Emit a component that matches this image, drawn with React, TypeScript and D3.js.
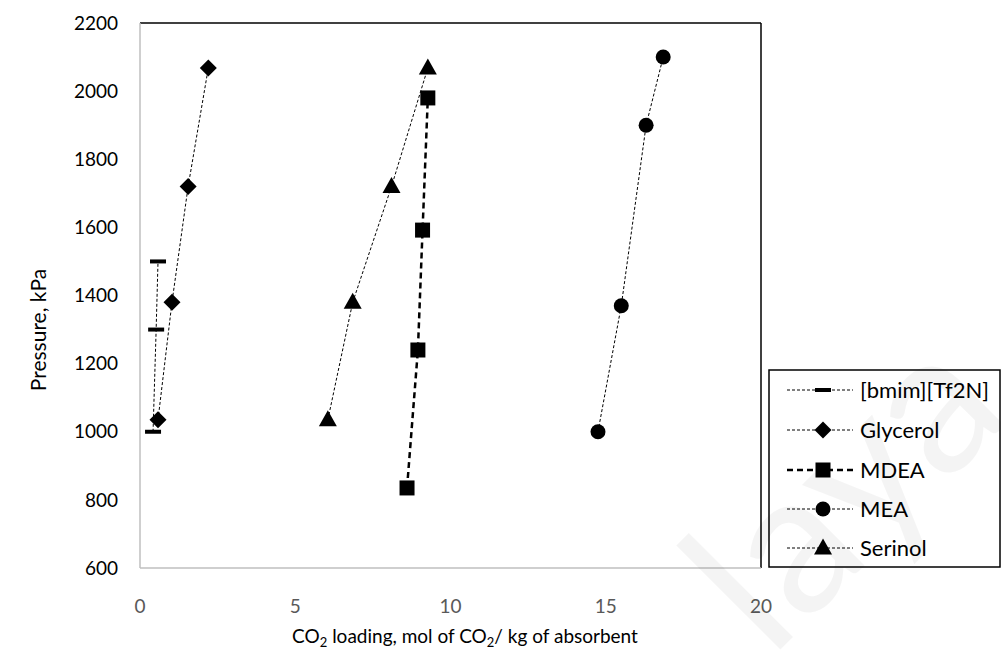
import React from "react";
import * as d3 from "d3";

const W = 1001, H = 652;
const M = { left: 140, right: 761, top: 23, bottom: 568 };

const xTicks = [0, 5, 10, 15, 20];
const yTicks = [600, 800, 1000, 1200, 1400, 1600, 1800, 2000, 2200];

const bmimX = [0.42, 0.52, 0.58];
const bmimY = [1000, 1300, 1500];
const glycerolX = [0.58, 1.03, 1.55, 2.2];
const glycerolY = [1035, 1380, 1720, 2068];
const mdeaX = [8.6, 8.95, 9.1, 9.27];
const mdeaY = [835, 1240, 1592, 1980];
const meaX = [14.75, 15.5, 16.3, 16.85];
const meaY = [1000, 1370, 1900, 2100];
const serinolX = [6.05, 6.85, 8.1, 9.27];
const serinolY = [1035, 1380, 1720, 2068];

type Marker = "dash" | "diamond" | "square" | "circle" | "triangle";
const series: { name: string; xs: number[]; ys: number[]; marker: Marker; thick: boolean }[] = [
  { name: "[bmim][Tf2N]", xs: bmimX, ys: bmimY, marker: "dash", thick: false },
  { name: "Glycerol", xs: glycerolX, ys: glycerolY, marker: "diamond", thick: false },
  { name: "MDEA", xs: mdeaX, ys: mdeaY, marker: "square", thick: true },
  { name: "MEA", xs: meaX, ys: meaY, marker: "circle", thick: false },
  { name: "Serinol", xs: serinolX, ys: serinolY, marker: "triangle", thick: false },
];

const FONT = "Lato, 'Open Sans', sans-serif";

function MarkerShape({ kind, x, y }: { kind: Marker; x: number; y: number }) {
  switch (kind) {
    case "dash":
      return <rect x={x - 8} y={y - 2} width={16} height={4} fill="#000" />;
    case "diamond":
      return <path d={`M${x},${y - 8.5}L${x + 8.5},${y}L${x},${y + 8.5}L${x - 8.5},${y}Z`} fill="#000" />;
    case "square":
      return <rect x={x - 7.5} y={y - 7.5} width={15} height={15} fill="#000" />;
    case "circle":
      return <circle cx={x} cy={y} r={7.5} fill="#000" />;
    case "triangle":
      return <path d={`M${x},${y - 9.5}L${x + 9},${y + 6.5}L${x - 9},${y + 6.5}Z`} fill="#000" />;
  }
}

export default function App() {
  const x = d3.scaleLinear().domain([0, 20]).range([M.left, M.right]);
  const y = d3.scaleLinear().domain([600, 2200]).range([M.bottom, M.top]);
  const line = d3.line<[number, number]>().x((d) => x(d[0])).y((d) => y(d[1]));

  const legX = 769, legY = 370, legW = 231, legH = 197;
  const rowY = [390, 430, 470, 509, 548];

  return (
    <svg width={W} height={H} style={{ position: "absolute", left: 0, top: 0, background: "#fff" }} fontFamily={FONT}>
      {/* plot border */}
      <line x1={M.left} x2={M.right} y1={M.top} y2={M.top} stroke="#000" strokeWidth={1.5} />
      <line x1={M.right} x2={M.right} y1={M.top} y2={M.bottom} stroke="#000" strokeWidth={1.5} />
      {/* axes */}
      <line x1={M.left} x2={M.left} y1={M.top} y2={M.bottom} stroke="#bfbfbf" strokeWidth={1.5} />
      <line x1={M.left} x2={M.right} y1={M.bottom} y2={M.bottom} stroke="#bfbfbf" strokeWidth={1.5} />

      {yTicks.map((t) => (
        <text key={t} x={118} y={y(t)} dy="0.35em" textAnchor="end" fontSize={19} fill="#000">{t}</text>
      ))}
      {xTicks.map((t) => (
        <text key={t} x={x(t)} y={606} dy="0.35em" textAnchor="middle" fontSize={19} fill="#595959">{t}</text>
      ))}

      <text transform={`translate(46,330) rotate(-90)`} textAnchor="middle" fontSize={21} fill="#000">Pressure, kPa</text>
      <text x={465} y={643} textAnchor="middle" fontSize={19} fill="#000">
        CO<tspan fontSize={13} dy={4}>2</tspan><tspan dy={-4}> loading, mol of CO</tspan><tspan fontSize={13} dy={4}>2</tspan><tspan dy={-4}>/ kg of absorbent</tspan>
      </text>

      {series.map((s) => {
        const pts = s.xs.map((v, i) => [v, s.ys[i]] as [number, number]);
        return (
          <g key={s.name}>
            <path d={line(pts) ?? ""} fill="none" stroke="#000" strokeWidth={s.thick ? 2.5 : 1} strokeDasharray={s.thick ? "6,4" : "3,2"} />
            {pts.map((p, i) => (
              <MarkerShape key={i} kind={s.marker} x={x(p[0])} y={y(p[1])} />
            ))}
          </g>
        );
      })}

      {/* legend */}
      <rect x={legX} y={legY} width={legW} height={legH} fill="#fff" stroke="#000" strokeWidth={1.5} />
      {series.map((s, i) => (
        <g key={s.name}>
          <line x1={787} x2={853} y1={rowY[i]} y2={rowY[i]} stroke="#000" strokeWidth={s.thick ? 2.5 : 1} strokeDasharray={s.thick ? "6,4" : "3,2"} />
          <MarkerShape kind={s.marker} x={823} y={rowY[i]} />
          <text x={860} y={rowY[i]} dy="0.35em" fontSize={22} fill="#000">{s.name}</text>
        </g>
      ))}

      {/* watermark */}
      <text x={770} y={660} fontSize={200} fill="#000" fillOpacity={0.045} transform="rotate(-45 770 660)" fontFamily={FONT}>laya</text>
    </svg>
  );
}
